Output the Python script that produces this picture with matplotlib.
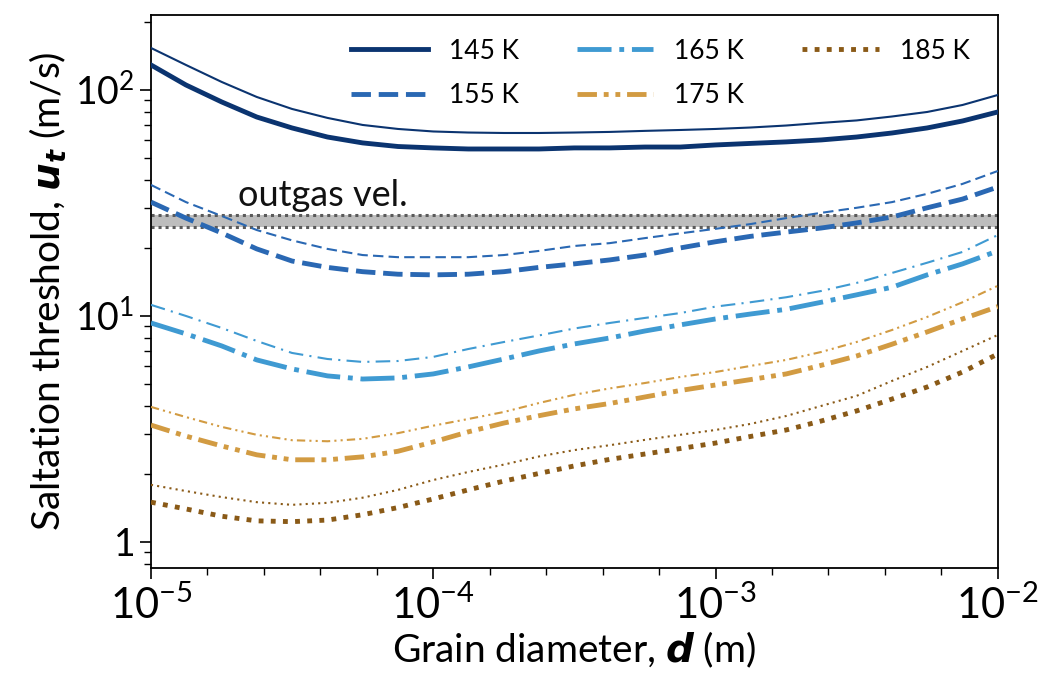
import matplotlib
matplotlib.use("Agg")
import matplotlib.pyplot as plt
from matplotlib.ticker import FixedLocator, NullFormatter

plt.rcParams['font.family'] = ['Lato', 'DejaVu Sans']
plt.rcParams['mathtext.rm'] = 'Lato'
plt.rcParams['mathtext.it'] = 'DejaVu Sans:italic:bold'
plt.rcParams['mathtext.bf'] = 'DejaVu Sans:bold'

# grain diameter (m)
d = [1.00e-5, 1.33e-5, 1.78e-5, 2.37e-5, 3.16e-5, 4.22e-5, 5.62e-5, 7.50e-5,
     1.00e-4, 1.33e-4, 1.78e-4, 2.37e-4, 3.16e-4, 4.22e-4, 5.62e-4, 7.50e-4,
     1.00e-3, 1.33e-3, 1.78e-3, 2.37e-3, 3.16e-3, 4.22e-3, 5.62e-3, 7.50e-3,
     1.00e-2]

# thick curves (m/s)
u145_thick = [129.0, 105.2, 88.5, 75.9, 67.9, 61.9, 58.3, 56.2, 55.4, 54.8, 54.8, 54.8, 55.4,
              55.4, 55.9, 55.9, 57.1, 58.0, 58.9, 60.1, 61.9, 64.5, 67.9, 72.9, 79.9]
u155_thick = [31.9, 27.1, 23.3, 19.8, 17.5, 16.4, 15.7, 15.3, 15.2, 15.3, 15.7, 16.4, 17.0,
              17.7, 18.6, 20.0, 21.3, 22.5, 23.5, 24.5, 25.8, 27.4, 30.1, 32.9, 37.2]
u165_thick = [9.31, 8.33, 7.37, 6.39, 5.83, 5.43, 5.26, 5.32, 5.54, 5.95, 6.45, 7.00, 7.52,
              7.99, 8.58, 9.13, 9.70, 10.2, 10.7, 11.5, 12.4, 13.4, 15.2, 17.0, 19.4]
u175_thick = [3.29, 2.94, 2.66, 2.43, 2.31, 2.31, 2.38, 2.52, 2.77, 3.07, 3.36, 3.62, 3.88,
              4.10, 4.38, 4.68, 4.95, 5.23, 5.54, 6.05, 6.65, 7.50, 8.50, 9.70, 11.0]
u185_thick = [1.50, 1.40, 1.30, 1.24, 1.23, 1.25, 1.32, 1.42, 1.55, 1.70, 1.86, 2.01, 2.17,
              2.32, 2.45, 2.59, 2.74, 2.93, 3.13, 3.43, 3.80, 4.29, 4.85, 5.65, 6.79]

# thin curves (m/s)
u145_thin = [153.4, 129.0, 108.5, 93.1, 82.4, 75.2, 70.0, 67.2, 65.5, 64.8, 64.5, 64.5, 64.8,
             65.2, 65.9, 66.5, 67.2, 68.2, 69.6, 71.5, 73.3, 76.3, 79.9, 85.8, 95.0]
u155_thin = [38.0, 31.9, 27.7, 24.0, 21.6, 19.8, 18.6, 18.2, 18.2, 18.2, 18.6, 19.4, 20.4,
             21.0, 22.1, 23.2, 24.3, 25.5, 27.1, 28.6, 30.1, 31.9, 34.7, 38.4, 43.8]
u165_thin = [11.2, 10.0, 8.85, 7.75, 6.86, 6.45, 6.26, 6.32, 6.59, 7.14, 7.67, 8.20, 8.80,
             9.31, 9.80, 10.3, 11.0, 11.5, 12.1, 12.9, 14.0, 15.5, 17.2, 19.2, 22.8]
u175_thin = [3.96, 3.57, 3.23, 2.98, 2.82, 2.79, 2.86, 3.03, 3.27, 3.50, 3.76, 4.12, 4.48,
             4.78, 5.05, 5.37, 5.65, 6.01, 6.39, 6.93, 7.67, 8.67, 9.90, 11.5, 13.6]
u185_thin = [1.79, 1.68, 1.58, 1.50, 1.46, 1.49, 1.57, 1.70, 1.88, 2.04, 2.20, 2.39, 2.55,
             2.68, 2.83, 2.98, 3.13, 3.33, 3.61, 4.00, 4.43, 5.16, 5.95, 7.00, 8.24]

labels = ['145 K', '155 K', '165 K', '175 K', '185 K']
outgas_low, outgas_high = 24.7, 28.0

colors = ['#0b3470', '#2a68b3', '#3f9ad2', '#d29b42', '#8a5a17']
thick_styles = ['-', (0, (4, 1.6)), (0, (7, 1.6, 1, 1.6)),
                (0, (4, 1.4, 1, 1.4, 1, 1.4)), (0, (1, 1.5))]
thin_styles = ['-', (0, (5, 2.5)), (0, (7, 3, 1, 3)),
               (0, (4, 2, 1, 2, 1, 2)), (0, (1, 2))]

thick = [u145_thick, u155_thick, u165_thick, u175_thick, u185_thick]
thin = [u145_thin, u155_thin, u165_thin, u175_thin, u185_thin]

fig = plt.figure(figsize=(10.52, 6.73), dpi=100)
ax = fig.add_axes([0.1435, 0.156, 0.805, 0.822])

# outgassing velocity band
ax.axhspan(outgas_low, outgas_high, color='#bdbdbd', lw=0, zorder=1)
for yv in (outgas_low, outgas_high):
    ax.axhline(yv, color='#5a5a5a', ls=(0, (1, 1.3)), lw=2.2, zorder=1.5)
ax.text(2.03e-5, 30.7, 'outgas vel.', fontsize=26, color='#111111')

for i in range(5):
    ax.plot(d, thick[i], color=colors[i], ls=thick_styles[i], lw=3.5,
            label=labels[i], zorder=3)
    ax.plot(d, thin[i], color=colors[i], ls=thin_styles[i], lw=1.5, zorder=3)

ax.set_xscale('log')
ax.set_yscale('log')
ax.set_xlim(1e-5, 1e-2)
ax.set_ylim(0.767, 215)

ax.set_xticks([1e-5, 1e-4, 1e-3, 1e-2])
ax.xaxis.set_minor_locator(FixedLocator([10 ** (-5 + 0.2 * i) for i in range(16) if i % 5]))
ax.xaxis.set_minor_formatter(NullFormatter())
ax.set_yticks([1, 10, 100], labels=[r'$1$', r'$10^{1}$', r'$10^{2}$'])
ax.yaxis.set_minor_formatter(NullFormatter())
for lbl in ax.get_yticklabels():
    lbl.set_math_fontfamily('custom')

ax.tick_params(axis='x', which='major', labelsize=30, length=8, width=1.2, pad=4)
ax.tick_params(axis='y', which='major', labelsize=27, length=8, width=1.2, pad=4)
ax.tick_params(which='minor', length=5, width=1.0)
for s in ax.spines.values():
    s.set_linewidth(1.3)

ax.set_xlabel(r'Grain diameter, $d$ (m)', fontsize=28, math_fontfamily='custom', labelpad=3)
ax.set_ylabel(r'Saltation threshold, $u_t$ (m/s)', fontsize=28, math_fontfamily='custom', labelpad=4)

ax.legend(ncol=3, loc='upper right', frameon=False, fontsize=19,
          handlelength=2.9, columnspacing=2.2, labelspacing=0.75,
          bbox_to_anchor=(0.995, 1.0))

fig.savefig('out.png', dpi=100)
